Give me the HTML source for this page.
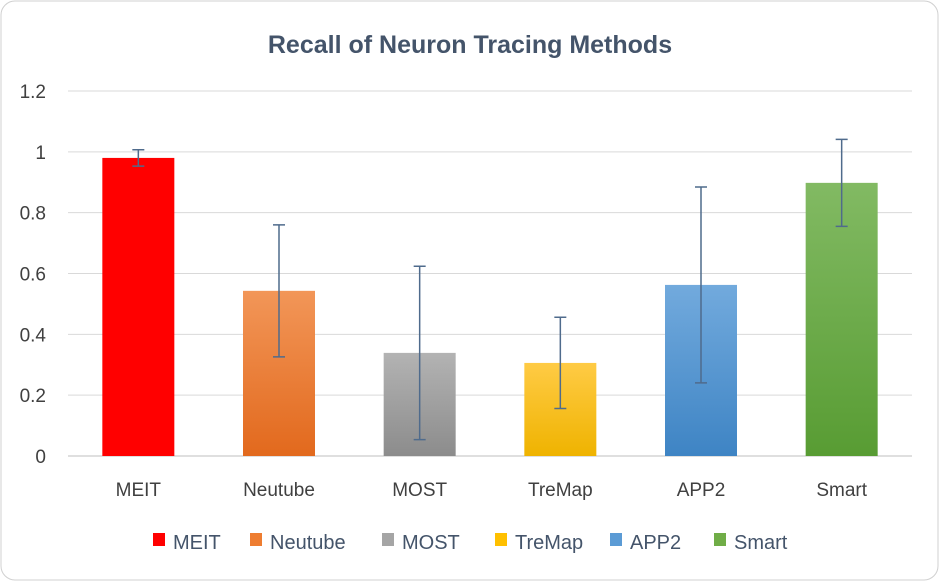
<!DOCTYPE html>
<html><head><meta charset="utf-8"><style>
body{margin:0;background:#fff;font-family:"Liberation Sans",sans-serif}
</style></head><body>
<svg width="939" height="581" xmlns="http://www.w3.org/2000/svg">
<defs>
<linearGradient id="g1" x1="0" y1="0" x2="0" y2="1"><stop offset="0" stop-color="#ff0000"/><stop offset="1" stop-color="#ff0000"/></linearGradient>
<linearGradient id="g2" x1="0" y1="0" x2="0" y2="1"><stop offset="0" stop-color="#f29658"/><stop offset="1" stop-color="#e2691d"/></linearGradient>
<linearGradient id="g3" x1="0" y1="0" x2="0" y2="1"><stop offset="0" stop-color="#b3b3b3"/><stop offset="1" stop-color="#8c8c8c"/></linearGradient>
<linearGradient id="g4" x1="0" y1="0" x2="0" y2="1"><stop offset="0" stop-color="#ffcb45"/><stop offset="1" stop-color="#efb300"/></linearGradient>
<linearGradient id="g5" x1="0" y1="0" x2="0" y2="1"><stop offset="0" stop-color="#72aadd"/><stop offset="1" stop-color="#3e84c4"/></linearGradient>
<linearGradient id="g6" x1="0" y1="0" x2="0" y2="1"><stop offset="0" stop-color="#82ba63"/><stop offset="1" stop-color="#589c33"/></linearGradient>
</defs>
<rect x="1" y="1" width="937" height="579" rx="14" fill="#fff" stroke="#d0d0d0"/>
<text x="470" y="53" text-anchor="middle" font-size="25" font-weight="bold" fill="#44546a">Recall of Neuron Tracing Methods</text>
<g id="grid"></g><g id="bars"></g><g id="legend"></g>
</svg>
<script>
const categories=["MEIT","Neutube","MOST","TreMap","APP2","Smart"];
const values=[0.98,0.543,0.339,0.306,0.5625,0.898];
const errors=[0.027,0.217,0.285,0.15,0.322,0.143];
const ticks=[0,0.2,0.4,0.6,0.8,1,1.2];
const tickLabels=["0","0.2","0.4","0.6","0.8","1","1.2"];
const fills=["url(#g1)","url(#g2)","url(#g3)","url(#g4)","url(#g5)","url(#g6)"];
const legendColors=["#ff0000","#ee7d31","#a5a5a5","#ffc000","#5b9bd5","#70ad47"];
const NS="http://www.w3.org/2000/svg";
const x0=68,x1=912,y0=456,y1=91;
const y=v=>y0-(v/1.2)*(y0-y1);
const band=(x1-x0)/categories.length;
const xc=i=>x0+band*(i+0.5);
function mk(t,a,p){const e=document.createElementNS(NS,t);for(const k in a)e.setAttribute(k,a[k]);p.appendChild(e);return e;}
const grid=document.getElementById('grid'),bars=document.getElementById('bars'),leg=document.getElementById('legend');
ticks.forEach((t,i)=>{
 const l=mk('line',{x1:x0,x2:x1,y1:y(t),y2:y(t),stroke:t===0?'#bfbfbf':'#d9d9d9','stroke-width':1},grid);
 
 
 const tx=mk('text',{x:46,y:y(t)+7,'text-anchor':'end','font-size':19,fill:'#404040'},grid);
 tx.textContent=tickLabels[i];
 
 
});
const bw=72;
categories.forEach((c,i)=>{
 const r=mk('rect',{x:xc(i)-bw/2,y:y(values[i]),width:bw,height:y0-y(values[i]),fill:fills[i]},bars);
 
 
 const hi=y(values[i]+errors[i]),lo=y(values[i]-errors[i]),cx=xc(i);
 const g=mk('path',{d:`M${cx},${hi}V${lo}M${cx-6},${hi}H${cx+6}M${cx-6},${lo}H${cx+6}`,stroke:'#4f6b8c','stroke-width':1.5,fill:'none'},bars);
 
 
 const t=mk('text',{x:cx,y:496,'text-anchor':'middle','font-size':19,fill:'#404040'},bars);
 t.textContent=c;
 
 
});
const lx=[153,250,382,495,610,714];
categories.forEach((c,i)=>{
 const g=mk('g',{},leg);
 
 
 mk('rect',{x:lx[i],y:533,width:12,height:13,fill:legendColors[i]},g);
 const t=mk('text',{x:lx[i]+20,y:549,'font-size':20,fill:'#44546a'},g);
 t.textContent=c;
});
</script>
</body></html>
